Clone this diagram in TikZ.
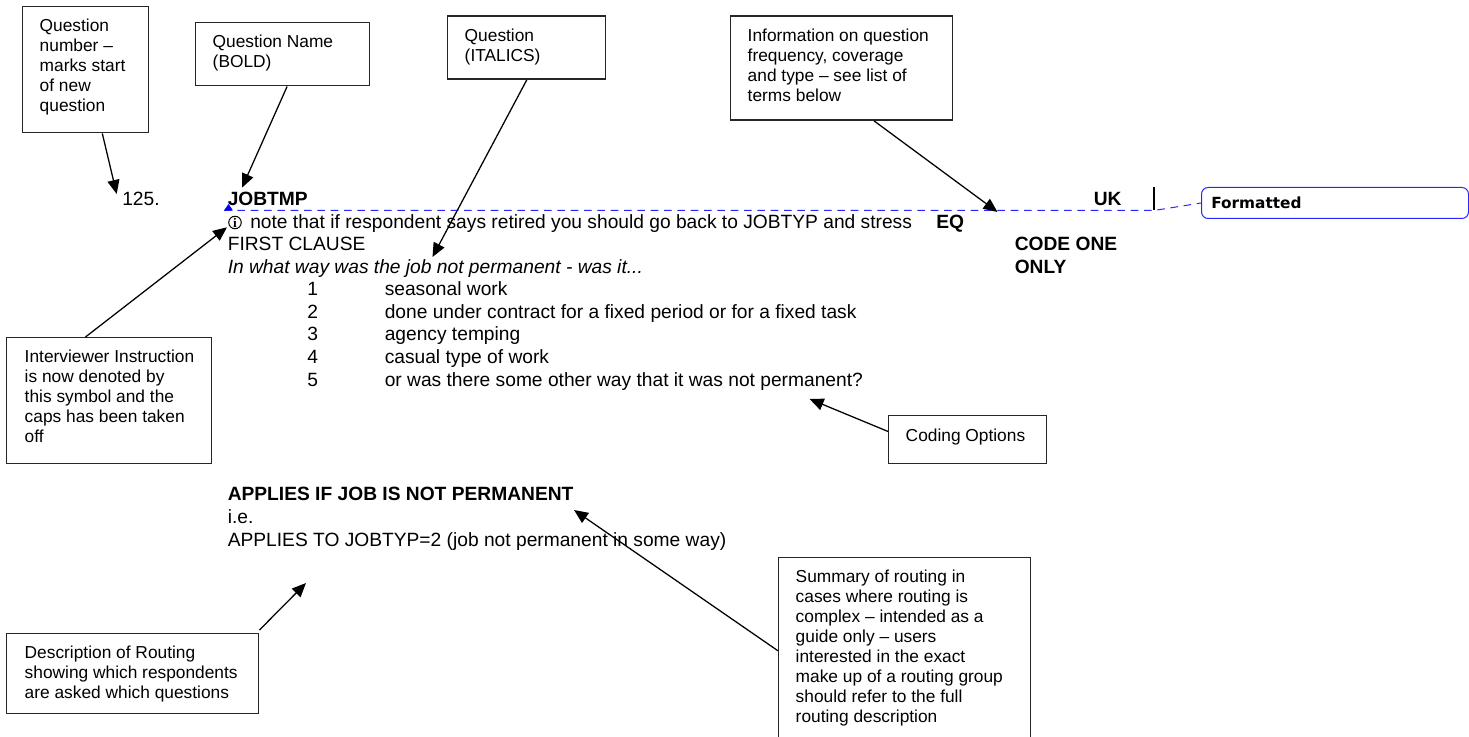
\documentclass[tikz,border=0pt]{standalone}
\usepackage{fontspec}
\setmainfont{Liberation Sans}
\newfontfamily\dvfont{DejaVu Sans}
\newfontfamily\serfont{Liberation Serif}
\usetikzlibrary{arrows.meta,calc}
\newdimen\px \px=0.75pt
\newcommand{\qbox}[7]{%
  \node[calloutbox] (#1) at (#2,#3) {\parbox[c][#5\px][t]{#4\px}{\raggedright\leftskip=#6\px\relax
    \vspace*{\dimexpr#7\px-14\px\relax}\rule{0pt}{14\px}\ignorespaces\qboxtext}};}
\tikzset{
  calloutbox/.style={draw=black!85,rectangle,inner sep=0pt,anchor=north west,line width=1.1pt,font=\fontsize{13}{15}\selectfont},
  maintext/.style={anchor=base west,inner sep=0pt,font=\fontsize{14.4}{17}\selectfont},
  boldtext/.style={maintext,font=\fontsize{14.4}{17}\selectfont\bfseries},
  pointer/.style={draw=black,line width=0.95pt,-{Triangle[length=10.5pt,width=9pt]},shorten >=0pt},
  trackline/.style={draw=blue!85!white,line width=0.75pt,dash pattern=on 5.7pt off 4.3pt},
}
\begin{document}
\begin{tikzpicture}[x=0.75pt,y=-0.75pt]
\useasboundingbox (0,0) rectangle (1469,737);
\fill[white] (0,0) rectangle (1469,737);
% callout boxes
\def\qboxtext{Question\\number --\\marks start\\of new\\question}
\qbox{qnum}{22}{6}{126}{126}{17}{25}
\def\qboxtext{Question Name\\(BOLD)}
\qbox{qname}{195}{22}{174}{63}{17}{25}
\def\qboxtext{Question\\(ITALICS)}
\qbox{qtext}{447}{15.5}{158}{63}{17}{25.5}
\def\qboxtext{Information on question\\frequency, coverage\\and type -- see list of\\terms below}
\qbox{qinfo}{730}{15.5}{222}{104}{17}{25.5}
\def\qboxtext{Interviewer Instruction\\is now denoted by\\this symbol and the\\caps has been taken\\off}
\qbox{qinst}{6}{337}{205}{126}{18}{25}
\def\qboxtext{Coding Options}
\qbox{qcode}{888}{415}{158}{48}{17}{26}
\def\qboxtext{Description of Routing\\showing which respondents\\are asked which questions}
\qbox{qdesc}{6}{633}{252}{80}{18}{25}
\def\qboxtext{Summary of routing in\\cases where routing is\\complex -- intended as a\\guide only -- users\\interested in the exact\\make up of a routing group\\should refer to the full\\routing description}
\qbox{qsum}{778}{557}{252}{190}{17}{25}
% main text
\node[maintext] (n125) at (122,206) {125.};
\node[boldtext] (jobtmp) at (227.5,206) {JOBTMP};
\node[boldtext] (uk) at (1093.5,206) {UK};
\node[draw=black,circle,line width=0.75pt,minimum size=12.5\px,inner sep=0pt,font=\serfont\bfseries\fontsize{10}{10}\selectfont] (info) at (235,222.5) {i};
\node[maintext] (note) at (250,228.5) {note that if respondent says retired you should go back to JOBTYP and stress};
\node[boldtext] (eq) at (936,228.5) {EQ};
\node[maintext] (first) at (227.5,251) {FIRST CLAUSE};
\node[boldtext] (code) at (1014.5,251) {CODE ONE};
\node[maintext,font=\fontsize{14.4}{17}\selectfont\itshape] (ques) at (227.5,274) {In what way was the job not permanent - was it...};
\node[boldtext] (only) at (1014.5,274) {ONLY};
\node[maintext] (c1) at (307,296) {1};
\node[maintext] (t1) at (384.5,296) {seasonal work};
\node[maintext] (c2) at (307,318.5) {2};
\node[maintext] (t2) at (384.5,318.5) {done under contract for a fixed period or for a fixed task};
\node[maintext] (c3) at (307,341) {3};
\node[maintext] (t3) at (384.5,341) {agency temping};
\node[maintext] (c4) at (307,364) {4};
\node[maintext] (t4) at (384.5,364) {casual type of work};
\node[maintext] (c5) at (307,386.5) {5};
\node[maintext] (t5) at (384.5,386.5) {or was there some other way that it was not permanent?};
\node[boldtext] (applies) at (227.5,500) {APPLIES IF JOB IS NOT PERMANENT};
\node[maintext] (ie) at (227.5,523) {i.e.};
\node[maintext] (appto) at (227.5,546) {APPLIES TO JOBTYP=2 (job not permanent in some way)};
% tracked-change marks
\node[draw=blue!85!white,rounded corners=5pt,line width=0.75pt,anchor=north west,minimum width=267\px,minimum height=31\px,inner sep=0pt] (fmt) at (1201,187) {};
\node[anchor=base west,inner sep=0pt,font=\dvfont\bfseries\fontsize{11.5}{14}\selectfont] (fmttext) at (1211,209) {Formatted};
\coordinate (trkL) at (224,210.5);
\coordinate (trkM) at (1154,210.5);
\coordinate (barT) at (1154,187);
\draw[trackline] (trkL) -- (trkM) -- (fmt.west);
\draw[black,line width=1.1pt] (barT) -- (trkM);
\fill[blue] (trkL) -- (233,210.5) -- (228.5,204) -- cycle;
% pointer tips
\coordinate (p1) at (116.7,194);
\coordinate (p2) at (242,187.7);
\coordinate (p3) at (432.5,257);
\coordinate (p4) at (997.5,212);
\coordinate (p5) at (227,227.3);
\coordinate (p6) at (809.6,399);
\coordinate (p7) at (574,510);
\coordinate (p8) at (306,583);
\draw[pointer] ($(qnum.south west)!0.63!(qnum.south east)$) -- (p1);
\draw[pointer] ($(qname.south west)!0.525!(qname.south east)$) -- (p2);
\draw[pointer] ($(qtext.south west)!0.5!(qtext.south east)$) -- (p3);
\draw[pointer] ($(qinfo.south west)!0.645!(qinfo.south east)$) -- (p4);
\draw[pointer] ($(qinst.north west)!0.385!(qinst.north east)$) -- (p5);
\draw[pointer] ($(qcode.north west)!0.333!(qcode.south west)$) -- (p6);
\draw[pointer] ($(qsum.north west)!0.49!(qsum.south west)$) -- (p7);
\draw[pointer] ($(qdesc.north east)+(0,-3)$) -- (p8);
\end{tikzpicture}
\end{document}
